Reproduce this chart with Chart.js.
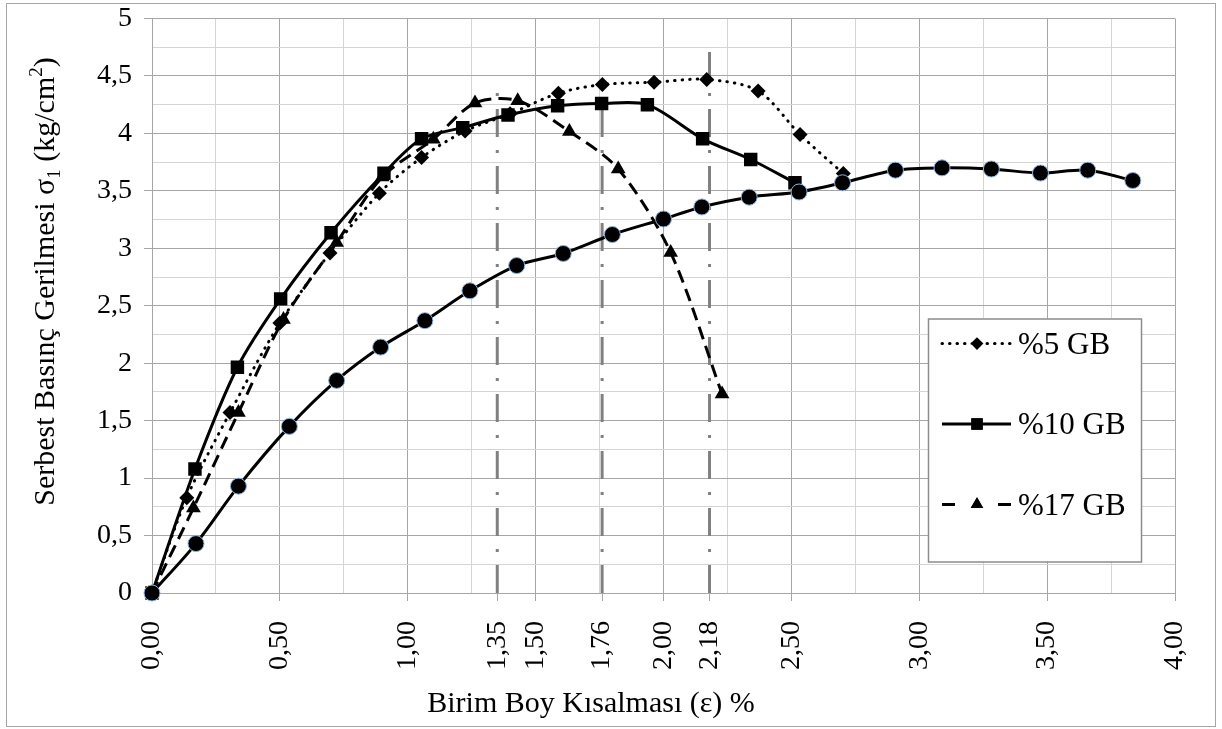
<!DOCTYPE html>
<html>
<head>
<meta charset="utf-8">
<script src="https://cdn.jsdelivr.net/npm/chart.js@4/dist/chart.umd.min.js"></script>
<style>
  html, body { margin: 0; padding: 0; background: #fff; }
  #wrap { width: 1222px; height: 729px; }
</style>
</head>
<body>
<div id="wrap"><canvas id="c" width="1222" height="729"></canvas></div>
<script>
// Unconfined compression: strain (%) vs stress (kg/cm2)
const strainBase = [0, 0.172, 0.338, 0.537, 0.722, 0.894, 1.067, 1.243, 1.426, 1.608, 1.80, 2.00, 2.15, 2.335, 2.53, 2.70, 2.907, 3.089, 3.282, 3.474, 3.659, 3.835];
const stressBase = [0, 0.43, 0.93, 1.45, 1.85, 2.14, 2.37, 2.63, 2.85, 2.955, 3.12, 3.255, 3.36, 3.445, 3.49, 3.57, 3.68, 3.70, 3.69, 3.655, 3.68, 3.59];

const strain5 = [0, 0.136, 0.305, 0.50, 0.696, 0.889, 1.054, 1.224, 1.40, 1.589, 1.761, 1.963, 2.169, 2.37, 2.534, 2.703];
const stress5 = [0, 0.83, 1.57, 2.35, 2.96, 3.48, 3.79, 4.02, 4.17, 4.35, 4.425, 4.445, 4.47, 4.37, 3.99, 3.65];

const strain10 = [0, 0.168, 0.334, 0.503, 0.70, 0.907, 1.054, 1.215, 1.392, 1.586, 1.758, 1.937, 2.153, 2.341, 2.514];
const stress10 = [0, 1.08, 1.965, 2.56, 3.135, 3.653, 3.953, 4.05, 4.16, 4.24, 4.26, 4.25, 3.953, 3.773, 3.57];

const strain17 = [0, 0.162, 0.338, 0.514, 0.722, 0.90, 1.10, 1.263, 1.43, 1.632, 1.823, 2.028, 2.229];
const stress17 = [0, 0.74, 1.57, 2.38, 3.05, 3.62, 3.95, 4.265, 4.285, 4.017, 3.69, 2.963, 1.732];

// Peak-strain marker lines
const peakStrain = [1.35, 1.76, 2.18];
const peakLineTop = [4.40, 4.26, 4.72];

// Axis ticks
const xMajorTicks = [0, 0.5, 1.0, 1.5, 2.0, 2.5, 3.0, 3.5, 4.0];
const xMinorTicks = [0.25, 0.75, 1.25, 1.75, 2.25, 2.75, 3.25, 3.75];
const yMajorTicks = [0, 0.5, 1, 1.5, 2, 2.5, 3, 3.5, 4, 4.5, 5];

const legendLabels = ['%5 GB', '%10 GB', '%17 GB'];
const yTitleParts = ['Serbest Basınç Gerilmesi σ', '1', ' (kg/cm', '2', ')'];
const xTitle = 'Birim Boy Kısalması (ε) %';

const FONT = 'Liberation Serif, "Times New Roman", serif';
const near = (a, b) => Math.abs(a - b) < 1e-6;
const isIn = (list, v) => list.some(t => near(t, v));
const pts = (xs, ys) => xs.map((x, i) => ({ x, y: ys[i] }));
const fmtX = v => v.toFixed(2).replace('.', ',');
const fmtY = v => String(v).replace('.', ',');

const xAllTicks = [...xMajorTicks, ...xMinorTicks, ...peakStrain].sort((a, b) => a - b);
const yAllTicks = [];
for (let i = 0; i <= 20; i++) yAllTicks.push(i * 0.25);

const series5 = { label: legendLabels[0], data: pts(strain5, stress5), borderColor: '#000', borderWidth: 3,
  borderDash: [0.5, 7], borderCapStyle: 'round', pointStyle: 'rectRot', pointRadius: 7.5,
  pointBackgroundColor: '#000', pointBorderColor: '#000', pointBorderWidth: 0, tension: 0.3, clip: 12 };
const series10 = { label: legendLabels[1], data: pts(strain10, stress10), borderColor: '#000', borderWidth: 3,
  pointStyle: 'rect', pointRadius: 9.5, pointBackgroundColor: '#000', pointBorderColor: '#000',
  pointBorderWidth: 0, tension: 0.3, clip: 12 };
const series17 = { label: legendLabels[2], data: pts(strain17, stress17), borderColor: '#000', borderWidth: 3,
  borderDash: [13, 7], pointStyle: 'triangle', pointRadius: 8.5, pointBackgroundColor: '#000',
  pointBorderColor: '#000', pointBorderWidth: 0, tension: 0.3, clip: 12 };
const seriesBase = { label: '', data: pts(strainBase, stressBase), borderColor: '#000', borderWidth: 3,
  pointStyle: 'circle', pointRadius: 8, pointBackgroundColor: '#000', pointBorderColor: '#8fb4e3',
  pointBorderWidth: 1, tension: 0.3, clip: 12 };

const peakLines = peakStrain.map((x, i) => ({
  label: '', data: [{ x, y: 0 }, { x, y: peakLineTop[i] }], borderColor: '#808080', borderWidth: 3,
  borderDash: [28, 13, 3, 13], borderCapStyle: 'butt', pointRadius: 0, tension: 0
}));

const decorations = {
  id: 'decorations',
  beforeDraw(chart) {
    const { ctx, width, height } = chart;
    ctx.save();
    ctx.fillStyle = '#fff';
    ctx.fillRect(0, 0, width, height);
    ctx.strokeStyle = '#a6a6a6';
    ctx.lineWidth = 1;
    ctx.strokeRect(6.5, 3.5, width - 13, height - 6);
    ctx.restore();
  },
  afterDraw(chart) {
    const { ctx, chartArea } = chart;
    ctx.save();
    ctx.fillStyle = '#000';

    // x-axis title
    ctx.font = '30px ' + FONT;
    ctx.textAlign = 'center';
    ctx.textBaseline = 'alphabetic';
    ctx.fillText(xTitle, chartArea.left + 439, chartArea.bottom + 119);

    // y-axis title with subscript / superscript
    const parts = [
      { t: yTitleParts[0], s: 30, dy: 0 },
      { t: yTitleParts[1], s: 19, dy: 6 },
      { t: yTitleParts[2], s: 30, dy: 0 },
      { t: yTitleParts[3], s: 19, dy: -12 },
      { t: yTitleParts[4], s: 30, dy: 0 }
    ];
    let total = 0;
    parts.forEach(p => { ctx.font = p.s + 'px ' + FONT; p.w = ctx.measureText(p.t).width; total += p.w; });
    ctx.translate(44, chartArea.top + 263);
    ctx.rotate(-Math.PI / 2);
    ctx.textAlign = 'left';
    let px = -total / 2;
    parts.forEach(p => { ctx.font = p.s + 'px ' + FONT; ctx.fillText(p.t, px, 10 + p.dy); px += p.w; });
    ctx.restore();

    // legend box
    ctx.save();
    const bx = chartArea.right - 247, by = chartArea.top + 300, bw = 213, bh = 243;
    ctx.fillStyle = '#fff';
    ctx.fillRect(bx, by, bw, bh);
    ctx.strokeStyle = '#8c8c8c';
    ctx.lineWidth = 1.5;
    ctx.strokeRect(bx + 0.5, by + 0.5, bw, bh);
    const entries = [series5, series10, series17];
    entries.forEach((ds, i) => {
      const cy = by + 25 + i * 80.5;
      const x0 = bx + 14, x1 = bx + 83, mx = bx + 49;
      ctx.strokeStyle = '#000';
      ctx.lineWidth = 3;
      if (i === 2) {
        ctx.setLineDash([]);
        ctx.beginPath();
        ctx.moveTo(x0, cy); ctx.lineTo(x0 + 13, cy);
        ctx.moveTo(x1 - 13, cy); ctx.lineTo(x1, cy);
        ctx.stroke();
      } else {
        ctx.setLineDash(ds.borderDash || []);
        ctx.lineCap = ds.borderCapStyle || 'butt';
        ctx.beginPath();
        ctx.moveTo(x0, cy); ctx.lineTo(x1, cy);
        ctx.stroke();
        ctx.lineCap = 'butt';
      }
      ctx.setLineDash([]);
      Chart.helpers.drawPoint(ctx, {
        pointStyle: ds.pointStyle, radius: ds.pointRadius * 0.85, rotation: 0,
        borderWidth: 0
      }, mx, cy);
      ctx.fillStyle = '#000';
      ctx.fill();
      ctx.font = '31px ' + FONT;
      ctx.textAlign = 'left';
      ctx.textBaseline = 'middle';
      ctx.fillText(ds.label, bx + 90, cy + 2);
    });
    ctx.restore();
  }
};

new Chart(document.getElementById('c'), {
  type: 'line',
  data: { datasets: [seriesBase, series10, series17, series5, ...peakLines] },
  options: {
    responsive: false,
    animation: false,
    devicePixelRatio: 1,
    layout: { padding: { top: 18.5, right: 47, left: 0, bottom: 0 } },
    plugins: { legend: { display: false }, tooltip: { enabled: false } },
    scales: {
      x: {
        type: 'linear', min: 0, max: 4,
        afterBuildTicks: scale => { scale.ticks = xAllTicks.map(v => ({ value: v })); },
        afterFit: scale => { scale.height = 136; scale.paddingLeft = 0; scale.paddingRight = 0; },
        ticks: {
          autoSkip: false, minRotation: 90, maxRotation: 90, padding: 20,
          color: '#000', font: { family: FONT, size: 28 },
          callback: v => (isIn(xMajorTicks, v) || isIn(peakStrain, v)) ? fmtX(v) : ''
        },
        grid: {
          color: c => isIn(xMajorTicks, c.tick.value) ? '#a6a6a6' : (isIn(xMinorTicks, c.tick.value) ? '#d4d4d4' : 'rgba(0,0,0,0)'),
          tickColor: c => (isIn(xMajorTicks, c.tick.value) || isIn(peakStrain, c.tick.value)) ? '#a6a6a6' : 'rgba(0,0,0,0)',
          tickLength: 8, lineWidth: 1
        },
        border: { color: '#a6a6a6', width: 1 }
      },
      y: {
        type: 'linear', min: 0, max: 5,
        afterBuildTicks: scale => { scale.ticks = yAllTicks.map(v => ({ value: v })); },
        afterFit: scale => { scale.width = 152; scale.paddingTop = 0; scale.paddingBottom = 0; },
        ticks: {
          autoSkip: false, padding: 12, color: '#000', font: { family: FONT, size: 28 },
          callback: v => isIn(yMajorTicks, v) ? fmtY(v) : ''
        },
        grid: {
          color: c => isIn(yMajorTicks, c.tick.value) ? '#a6a6a6' : '#d4d4d4',
          tickColor: c => isIn(yMajorTicks, c.tick.value) ? '#a6a6a6' : 'rgba(0,0,0,0)',
          tickLength: 8, lineWidth: 1
        },
        border: { color: '#a6a6a6', width: 1 }
      }
    }
  },
  plugins: [decorations]
});
</script>
</body>
</html>
